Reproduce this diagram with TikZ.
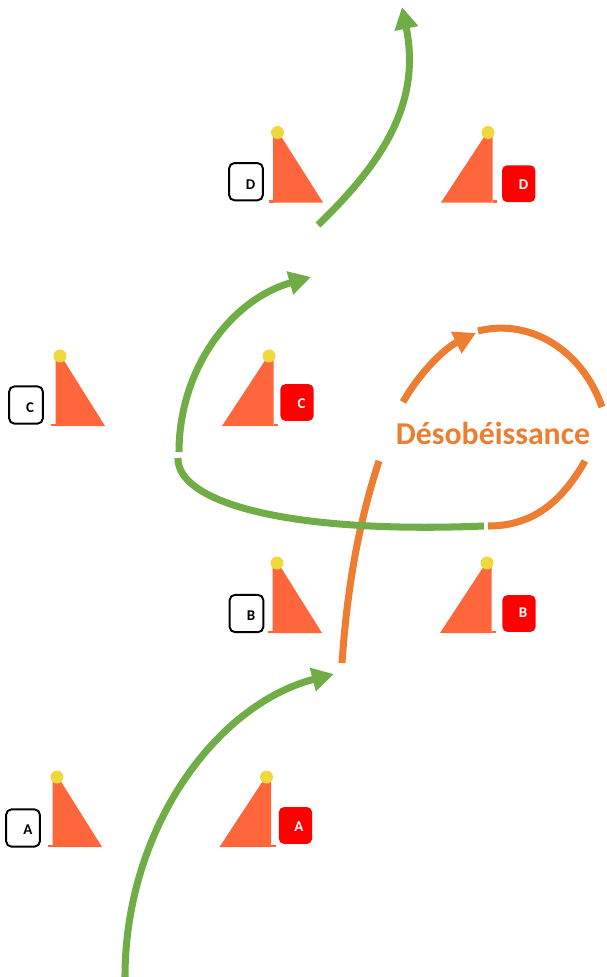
\documentclass[tikz,border=0pt]{standalone}
\usepackage{fontspec}
\setmainfont{Carlito}
\usetikzlibrary{arrows.meta}
\definecolor{pathgreen}{HTML}{70AD47}
\definecolor{pathorange}{HTML}{ED7D31}
\definecolor{conefill}{HTML}{FF663C}
\definecolor{ballfill}{HTML}{F0D83C}
\tikzset{
    cone/.style={fill=conefill, draw=none},
    ball/.style={fill=ballfill, draw=none},
    greenpath/.style={draw=pathgreen, line width=4pt},
    orangepath/.style={draw=pathorange, line width=4pt},
    pathhead/.style={-{Triangle[length=12.5pt,width=13pt]}},
    blackbox/.style={draw=black, line width=1.1pt, rounded corners=3pt, minimum width=19.2pt, minimum height=21.2pt, inner sep=0pt},
    redbox/.style={fill=red, draw=none, rounded corners=3pt, minimum width=19pt, minimum height=21pt, inner sep=0pt},
    blacktag/.style={font=\bfseries\fontsize{8.5}{8.5}\selectfont, text=black, inner sep=0pt},
    redtag/.style={font=\bfseries\fontsize{8.5}{8.5}\selectfont, text=white, inner sep=0pt},
}
\begin{document}
\begin{tikzpicture}[x=0.02cm, y=-0.02cm]
    \useasboundingbox (0, 0) rectangle (606, 977);
    % cones on the left of the lane
    \fill [cone] (52.5, 780) -- (60, 780) -- (102, 847) -- (52.5, 847) -- cycle;
    \fill [cone] (48, 844.7) rectangle (53, 847);
    \fill [ball] (57, 777) circle (6.5);
    \fill [cone] (272.5, 566) -- (280, 566) -- (322, 633) -- (272.5, 633) -- cycle;
    \fill [cone] (268, 630.7) rectangle (273, 633);
    \fill [ball] (277, 563) circle (6.5);
    \fill [cone] (55.5, 359) -- (63, 359) -- (105, 426) -- (55.5, 426) -- cycle;
    \fill [cone] (51, 423.7) rectangle (56, 426);
    \fill [ball] (60, 356) circle (6.5);
    \fill [cone] (273, 135.5) -- (280.5, 135.5) -- (323, 202.5) -- (273, 202.5) -- cycle;
    \fill [cone] (268.5, 200.2) rectangle (273.5, 202.5);
    \fill [ball] (277.5, 132.5) circle (6.5);%
%
    % cones on the right of the lane
    \fill [cone] (271.2, 780) -- (263.5, 780) -- (219.5, 847) -- (271.2, 847) -- cycle;
    \fill [cone] (271, 844.7) rectangle (275.5, 847);
    \fill [ball] (266.5, 777) circle (6.5);
    \fill [cone] (491.7, 566) -- (484, 566) -- (440, 633) -- (491.7, 633) -- cycle;
    \fill [cone] (491.5, 630.7) rectangle (496, 633);
    \fill [ball] (487, 563) circle (6.5);
    \fill [cone] (273.7, 359) -- (266, 359) -- (222, 426) -- (273.7, 426) -- cycle;
    \fill [cone] (273.5, 423.7) rectangle (278, 426);
    \fill [ball] (269, 356) circle (6.5);
    \fill [cone] (492.7, 135.5) -- (485, 135.5) -- (441, 202.5) -- (492.7, 202.5) -- cycle;
    \fill [cone] (492.5, 200.2) rectangle (497, 202.5);
    \fill [ball] (488, 132.5) circle (6.5);%
%
    % tags
    \node [blackbox] (boxA) at (23, 828) {};
    \node [blacktag] (tagA) at (28, 830) {A};
    \node [blackbox] (boxB) at (246.5, 613.5) {};
    \node [blacktag] (tagB) at (251, 616) {B};
    \node [blackbox] (boxC) at (26, 405) {};
    \node [blacktag] (tagC) at (30, 408) {C};
    \node [blackbox] (boxD) at (246, 181.7) {};
    \node [blacktag] (tagD) at (250.5, 184.5) {D};
    \node [redbox] (redA) at (295.5, 825.5) {};
    \node [redtag] (labA) at (299, 827) {A};
    \node [redbox] (redB) at (519, 613.5) {};
    \node [redtag] (labB) at (523, 613) {B};
    \node [redbox] (redC) at (297, 402.5) {};
    \node [redtag] (labC) at (301.5, 404) {C};
    \node [redbox] (redD) at (518.7, 183.7) {};
    \node [redtag] (labD) at (523.5, 185) {D};%
%
    % points the paths run between
    \coordinate (start) at (125, 977);
    \coordinate (firsttip) at (334, 674);
    \coordinate (swervefoot) at (342, 663);
    \coordinate (swervetop) at (379, 461);
    \coordinate (looplow) at (403, 402);
    \coordinate (looptip) at (476, 333);
    \coordinate (archleft) at (478, 331);
    \coordinate (archright) at (602, 407);
    \coordinate (bendright) at (585, 461);
    \coordinate (bendend) at (488, 526);
    \coordinate (backend) at (484, 526);
    \coordinate (backstart) at (178, 458);
    \coordinate (upstart) at (179, 452);
    \coordinate (uptip) at (311, 277);
    \coordinate (laststart) at (318, 225);
    \coordinate (lasttip) at (402, 7);%
%
    % orange part
    \draw [orangepath] (swervefoot) .. controls (347, 590) and (358, 525) .. (swervetop);
    \draw [orangepath, pathhead] (looplow) .. controls (420, 372) and (445, 348) .. (looptip);
    \draw [orangepath] (archleft) .. controls (530, 318) and (582, 350) .. (archright);
    \draw [orangepath] (bendright) .. controls (560, 505) and (530, 526) .. (bendend);
    \node [text=pathorange, font=\bfseries\fontsize{18.1}{19}\selectfont, inner sep=0pt] (refusal) at (493, 433) {Désobéissance};%
%
    % green part
    \draw [greenpath, pathhead] (start) .. controls (125, 830) and (215, 705) .. (firsttip);
    \draw [greenpath] (backstart) .. controls (177, 503) and (290, 534) .. (backend);
    \draw [greenpath, pathhead] (upstart) .. controls (179, 370) and (230, 300) .. (uptip);
    \draw [greenpath, pathhead] (laststart) .. controls (380, 165) and (422, 105) .. (lasttip);
\end{tikzpicture}
\end{document}
